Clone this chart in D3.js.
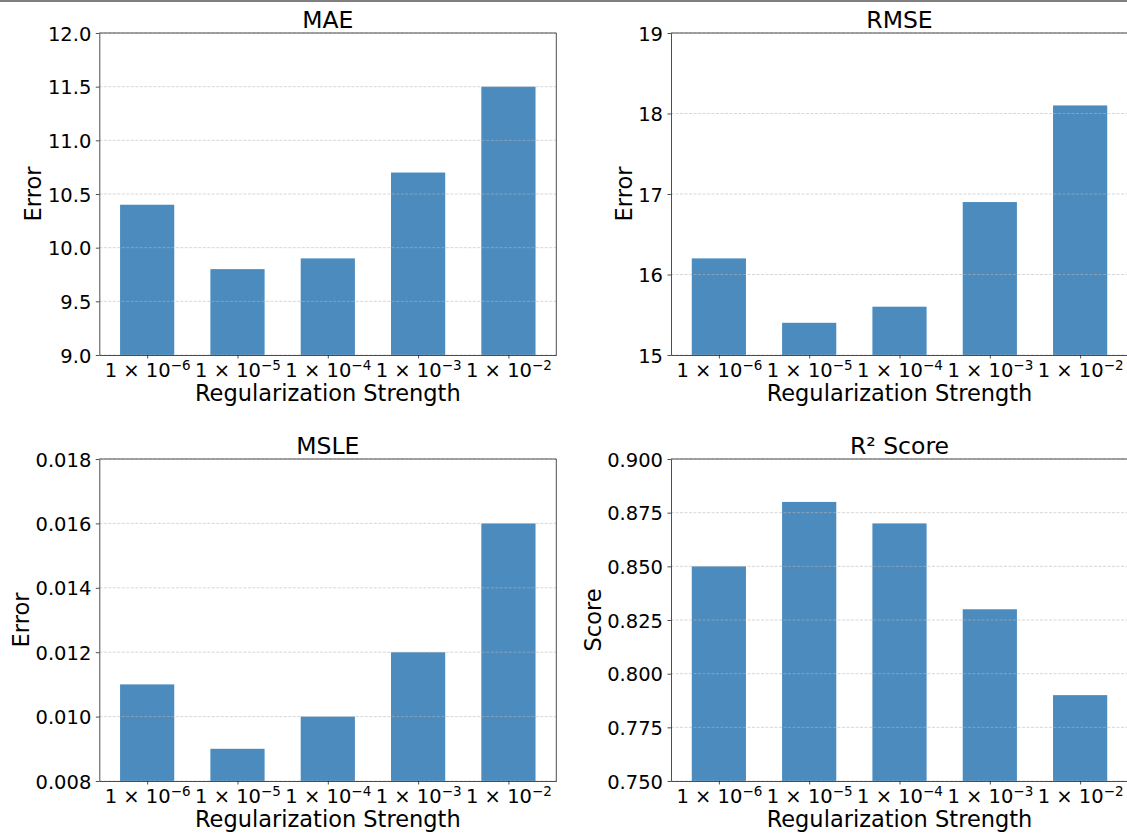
<!DOCTYPE html>
<html>
<head>
<meta charset="utf-8">
<script src="https://cdn.jsdelivr.net/npm/d3@7"></script>
<style>
  html, body { margin: 0; padding: 0; background: #fff; }
  svg { display: block; font-family: "DejaVu Sans", sans-serif; }
</style>
</head>
<body>
<svg id="chart" width="1127" height="837"></svg>
<script>
// ---- data ----
const exponents = [-6, -5, -4, -3, -2];
const maeValues = [10.4, 9.8, 9.9, 10.7, 11.5];
const rmseValues = [16.2, 15.4, 15.6, 16.9, 18.1];
const msleValues = [0.011, 0.009, 0.010, 0.012, 0.016];
const r2Values = [0.85, 0.88, 0.87, 0.83, 0.79];

const maeTicks = [9.0, 9.5, 10.0, 10.5, 11.0, 11.5, 12.0];
const rmseTicks = [15, 16, 17, 18, 19];
const msleTicks = [0.008, 0.010, 0.012, 0.014, 0.016, 0.018];
const r2Ticks = [0.750, 0.775, 0.800, 0.825, 0.850, 0.875, 0.900];

const panels = [
  { title: "MAE", ylabel: "Error", values: maeValues, ticks: maeTicks, fmt: d3.format(".1f"), col: 0, row: 0 },
  { title: "RMSE", ylabel: "Error", values: rmseValues, ticks: rmseTicks, fmt: d3.format("d"), col: 1, row: 0 },
  { title: "MSLE", ylabel: "Error", values: msleValues, ticks: msleTicks, fmt: d3.format(".3f"), col: 0, row: 1 },
  { title: "R² Score", ylabel: "Score", values: r2Values, ticks: r2Ticks, fmt: d3.format(".3f"), col: 1, row: 1 }
];

// ---- layout ----
const colX = [99.3, 671];
const rowY = [33, 459];
const W = 457, H = 322;
const barColor = "#4b8bbe";
const tickFont = 19.5, supFont = 13.5, labelFont = 22.5, titleFont = 23.5;

const svg = d3.select("#chart");

// top border line
svg.append("line").attr("x1", 0).attr("x2", 1127).attr("y1", 1).attr("y2", 1)
  .attr("stroke", "#000").attr("stroke-width", 1.2);

panels.forEach(p => {
  const x0 = colX[p.col], y0 = rowY[p.row];
  const g = svg.append("g").attr("transform", `translate(${x0},${y0})`);

  const x = d3.scaleLinear().domain([-0.53, 4.53]).range([0, W]);
  const y = d3.scaleLinear().domain([p.ticks[0], p.ticks[p.ticks.length - 1]]).range([H, 0]);
  const bw = x(0.6) - x(0);

  // bars
  g.selectAll("rect.bar").data(p.values).enter().append("rect")
    .attr("class", "bar")
    .attr("x", (d, i) => x(i) - bw / 2)
    .attr("width", bw)
    .attr("y", d => y(d))
    .attr("height", d => H - y(d))
    .attr("fill", barColor);

  // grid
  g.selectAll("line.grid").data(p.ticks).enter().append("line")
    .attr("class", "grid")
    .attr("x1", 0).attr("x2", W)
    .attr("y1", d => y(d)).attr("y2", d => y(d))
    .attr("stroke", "#b8b8b8").attr("stroke-opacity", 0.7)
    .attr("stroke-width", 0.8).attr("stroke-dasharray", "3,1.5");

  // y axis
  const yAx = g.append("g").call(
    d3.axisLeft(y).tickValues(p.ticks).tickFormat(p.fmt).tickSize(3.5).tickPadding(4.5).tickSizeOuter(0)
  );
  yAx.attr("font-size", null).attr("font-family", null);
  yAx.selectAll("text").style("font-size", tickFont + "px").attr("fill", "#000")
     .style("font-family", "DejaVu Sans").attr("dy", "0.36em");
  yAx.selectAll("line").attr("stroke", "#222").attr("stroke-width", 0.8);
  yAx.select(".domain").attr("stroke", "#222").attr("stroke-width", 0.8);

  // x axis
  const xAx = g.append("g").attr("transform", `translate(0,${H})`).call(
    d3.axisBottom(x).tickValues(d3.range(exponents.length)).tickFormat(() => "").tickSize(3.5).tickSizeOuter(0)
  );
  xAx.attr("font-size", null).attr("font-family", null);
  xAx.selectAll("line").attr("stroke", "#222").attr("stroke-width", 0.8);
  xAx.select(".domain").attr("stroke", "#222").attr("stroke-width", 0.8);
  xAx.selectAll(".tick").each(function (d) {
    const t = d3.select(this).select("text");
    t.attr("y", 22).attr("dy", null).style("font-size", tickFont + "px").attr("fill", "#000")
     .style("font-family", "DejaVu Sans").text(null);
    t.append("tspan").text("1 × 10");
    t.append("tspan").attr("dy", -7).style("font-size", supFont + "px").text("−" + Math.abs(exponents[d]));
  });

  // top & right spines
  g.append("line").attr("x1", 0).attr("x2", W).attr("y1", 0).attr("y2", 0)
    .attr("stroke", "#222").attr("stroke-width", 0.8);
  g.append("line").attr("x1", W).attr("x2", W).attr("y1", 0).attr("y2", H)
    .attr("stroke", "#222").attr("stroke-width", 0.8);

  // title
  g.append("text").attr("x", W / 2).attr("y", -5).attr("text-anchor", "middle")
    .style("font-size", titleFont + "px").attr("fill", "#000").text(p.title);

  // x label
  g.append("text").attr("x", W / 2).attr("y", H + 46).attr("text-anchor", "middle")
    .style("font-size", labelFont + "px").attr("fill", "#000").text("Regularization Strength");

  // y label, placed left of widest tick label
  let maxW = 0;
  yAx.selectAll("text").each(function () { maxW = Math.max(maxW, this.getComputedTextLength()); });
  const lx = -8 - maxW - 6.5;
  g.append("text").attr("transform", `translate(${lx},${H / 2}) rotate(-90)`)
    .attr("text-anchor", "middle").style("font-size", labelFont + "px").attr("fill", "#000").text(p.ylabel);
});
</script>
</body>
</html>
